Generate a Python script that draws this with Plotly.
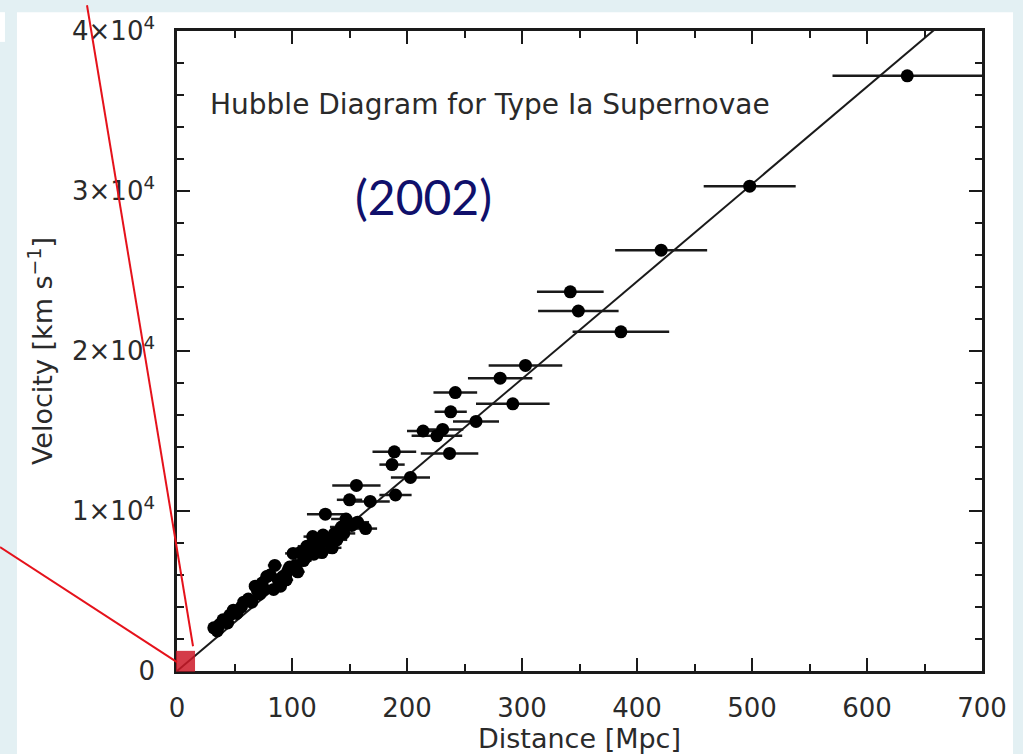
import plotly.graph_objects as go

# ---- data ----
distance_mpc = [635, 498, 421, 342, 349, 386, 303, 281, 292, 242,
                238, 260, 214, 231, 226, 237, 189, 187, 203, 156,
                150, 168, 190, 129, 147, 164, 143, 137, 127, 118,
                133, 113, 107, 101, 119, 139, 121, 110, 98, 95,
                85, 81, 84, 74, 68, 62, 56, 46, 40, 32,
                92, 78, 49, 37, 72, 90, 105, 145,
                35, 44, 52, 58, 65, 70, 76, 88, 96, 103,
                112, 116, 124, 131, 152, 157, 135, 126]
velocity_kms = [37200, 30300, 26300, 23700, 22500, 21200, 19100, 18300, 16700, 17400,
                16200, 15600, 15000, 15100, 14700, 13600, 13700, 12900, 12100, 11600,
                10700, 10600, 11000, 9800, 9500, 8900, 9000, 8600, 8500, 8400,
                8000, 7800, 7400, 7350, 7300, 8200, 8100, 6900, 6500, 5700,
                6600, 6000, 5100, 5500, 5300, 4500, 4000, 3500, 3200, 2700,
                5900, 5900, 3800, 2900, 4800, 5300, 6200, 8600,
                2500, 3000, 3600, 4300, 4300, 5000, 5100, 5700, 6200, 6600,
                7100, 7600, 7900, 8300, 9100, 9300, 7700, 7400]
distance_err = [65, 40, 40, 29, 35, 42, 32, 28, 32, 19,
                14, 20, 14, 18, 22, 25, 19, 11, 17, 21,
                11, 17, 14, 16, 13, 10, 10, 9, 9, 8,
                9, 8, 7, 7, 8, 9, 8, 7, 6, 6,
                6, 5, 5, 5, 4, 4, 4, 3, 3, 2,
                6, 5, 3, 2, 4, 5, 6, 10,
                2, 3, 3, 4, 4, 4, 5, 5, 6, 6,
                7, 7, 8, 8, 10, 10, 8, 8]

fit_distance = [0, 700]
fit_velocity = [0, 42600]

x_tickvals = [0, 100, 200, 300, 400, 500, 600, 700]
x_ticktext = ["0", "100", "200", "300", "400", "500", "600", "700"]
y_tickvals = [0, 10000, 20000, 30000, 40000]
y_ticktext = ["0", "1×10<sup>4</sup>", "2×10<sup>4</sup>", "3×10<sup>4</sup>", "4×10<sup>4</sup>"]

INK = "#1a1a1a"
TXT = "#2a2a2a"
FONT = "DejaVu Sans"

fig = go.Figure()

fig.add_trace(go.Scatter(
    x=fit_distance, y=fit_velocity, mode="lines",
    line=dict(color=INK, width=2), hoverinfo="skip", showlegend=False,
))

fig.add_trace(go.Scatter(
    x=distance_mpc, y=velocity_kms, mode="markers",
    marker=dict(color="black", size=13),
    error_x=dict(type="data", array=distance_err, width=0, thickness=2.5, color=INK),
    showlegend=False,
))

axis_common = dict(
    showline=True, linewidth=2.5, linecolor=INK, mirror="allticks",
    ticks="inside", ticklen=13, tickwidth=2, tickcolor=INK,
    showgrid=False, zeroline=False,
    tickfont=dict(family=FONT, size=26, color=TXT),
)

fig.update_xaxes(
    range=[0, 700], tickmode="array", tickvals=x_tickvals, ticktext=x_ticktext,
    minor=dict(ticks="inside", ticklen=7, tickwidth=2, tickcolor=INK, dtick=50),
    ticklabelstandoff=12,
    title=dict(text="Distance [Mpc]", font=dict(family=FONT, size=27, color=TXT), standoff=0),
    **axis_common,
)
fig.update_yaxes(
    range=[0, 40000], tickmode="array", tickvals=y_tickvals, ticktext=y_ticktext,
    minor=dict(ticks="inside", ticklen=7, tickwidth=2, tickcolor=INK, dtick=2000),
    ticklabelstandoff=14,
    title=dict(text="Velocity [km s<sup>−1</sup>]", font=dict(family=FONT, size=27, color=TXT), standoff=12),
    **axis_common,
)

shapes = [
    # white slide panel
    dict(type="rect", xref="paper", yref="paper", x0=-0.1988, x1=1.0385, y0=-0.2, y1=1.0294,
         fillcolor="white", line=dict(width=0), layer="below"),
    dict(type="rect", xref="paper", yref="paper", x0=-0.2199, x1=-0.2137, y0=0.983, y1=1.0294,
         fillcolor="white", line=dict(width=0), layer="below"),
    # red zoom marker
    dict(type="rect", xref="paper", yref="paper", x0=-0.0012, x1=0.0224, y0=-0.001, y1=0.0315,
         fillcolor="rgba(205,25,40,0.85)", line=dict(width=0), layer="above"),
    dict(type="line", xref="paper", yref="paper", x0=-0.1118, y0=1.0402, x1=0.0199, y1=0.0387,
         line=dict(color="#e5121b", width=2), layer="above"),
    dict(type="line", xref="paper", yref="paper", x0=-0.2199, y0=0.1935, x1=0.0, y1=0.0139,
         line=dict(color="#e5121b", width=2), layer="above"),
]

annotations = [
    dict(text="Hubble Diagram for Type Ia Supernovae", xref="paper", yref="paper",
         x=0.0385, y=0.8854, xanchor="left", yanchor="middle", showarrow=False,
         font=dict(family=FONT, size=28, color=TXT)),
    dict(text="(2002)", xref="paper", yref="paper",
         x=0.3068, y=0.7415, xanchor="center", yanchor="middle", showarrow=False,
         font=dict(family="Lato", size=48, color="#10106b")),
]

fig.update_layout(
    width=1023, height=754, autosize=False,
    margin=dict(l=177, r=41, t=26, b=82, pad=0),
    paper_bgcolor="#e3f0f3", plot_bgcolor="white",
    shapes=shapes, annotations=annotations,
    showlegend=False,
)

fig.write_html("out.html")
